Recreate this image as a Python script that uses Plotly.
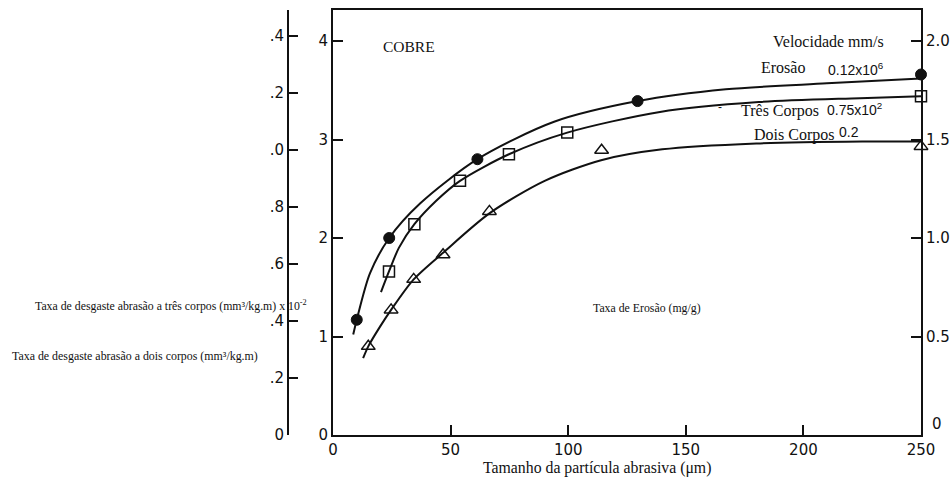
import plotly.graph_objects as go

# ---- data (primary axis units: Taxa de Erosão scale 0-4) ----
x_ticks = [0, 50, 100, 150, 200, 250]
y_left_ticks = [0, 1, 2, 3, 4]
y_right_vals = [0.5, 1.0, 1.5, 2.0]
y_right_text = ["0.5", "1.0", "1.5", "2.0"]
y_outer_vals = [0, 0.2, 0.4, 0.6, 0.8, 1.0, 1.2, 1.4]
y_outer_text = ["0", ".2", ".4", ".6", ".8", ".0", ".2", ".4"]

# markers
erosao_x = [10.1, 23.9, 61.4, 129.5, 250]
erosao_y = [1.17, 2.00, 2.80, 3.39, 3.66]
tres_x = [23.8, 34.6, 54.0, 74.8, 99.6, 250]
tres_y = [1.66, 2.14, 2.58, 2.85, 3.07, 3.44]
dois_x = [15.0, 24.7, 34.3, 46.8, 66.5, 114.2, 250]
dois_y = [0.90, 1.27, 1.58, 1.83, 2.27, 2.89, 2.93]

# fitted curves
erosao_cx = [8.6, 10.1, 15.7, 23.9, 37, 61.4, 94, 129.5, 167, 210, 250]
erosao_cy = [1.02, 1.17, 1.64, 2.00, 2.35, 2.80, 3.18, 3.39, 3.51, 3.57, 3.62]
tres_cx = [20.4, 23.8, 28, 34.6, 44, 54, 74.8, 99.6, 139, 181, 224, 250]
tres_cy = [1.45, 1.66, 1.90, 2.14, 2.38, 2.58, 2.85, 3.07, 3.28, 3.38, 3.42, 3.44]
dois_cx = [12.8, 15, 20, 24.7, 34.3, 46.8, 66.5, 90, 114, 140, 180, 225, 250]
dois_cy = [0.78, 0.90, 1.10, 1.27, 1.58, 1.85, 2.25, 2.58, 2.79, 2.90, 2.96, 2.98, 2.98]

W, H = 950, 479
ML, MR, MT, MB = 250, 29, 10, 44
PW = W - ML - MR
PH = H - MT - MB

def px(x):
    return (x - ML) / PW

def py(y):
    return (H - MB - y) / PH

LINE = "#111111"
fig = go.Figure()

def curve(xs, ys):
    fig.add_trace(go.Scatter(x=xs, y=ys, mode="lines", line=dict(color=LINE, width=2, shape="spline", smoothing=0.8),
                             hoverinfo="skip", showlegend=False, cliponaxis=False))

curve(erosao_cx, erosao_cy)
curve(tres_cx, tres_cy)
curve(dois_cx, dois_cy)

fig.add_trace(go.Scatter(x=erosao_x, y=erosao_y, mode="markers", name="Erosão",
                         marker=dict(symbol="circle", size=11, color=LINE, line=dict(color=LINE, width=1)),
                         showlegend=False, cliponaxis=False))
fig.add_trace(go.Scatter(x=tres_x, y=tres_y, mode="markers", name="Três Corpos",
                         marker=dict(symbol="square-open", size=11, color=LINE, line=dict(color=LINE, width=1.5)),
                         showlegend=False, cliponaxis=False))
fig.add_trace(go.Scatter(x=dois_x, y=dois_y, mode="markers", name="Dois Corpos",
                         marker=dict(symbol="triangle-up-open", size=12, color=LINE, line=dict(color=LINE, width=1.5)),
                         showlegend=False, cliponaxis=False))

tickfont = dict(family="DejaVu Sans", size=15, color="#111111")
common = dict(tickwidth=1.5, tickcolor=LINE, showline=True, linecolor=LINE, linewidth=2,
              showgrid=False, zeroline=False, tickfont=tickfont, automargin=False)
x0 = px(333)
fig.update_layout(
    width=W, height=H, autosize=False,
    margin=dict(l=ML, r=MR, t=MT, b=MB, autoexpand=False),
    paper_bgcolor="white", plot_bgcolor="white", showlegend=False,
    xaxis=dict(domain=[x0, 1], range=[0, 250], tickvals=x_ticks, ticks="inside", ticklen=10,
               mirror=True, **common),
    yaxis=dict(range=[0, 425 / 98.5], tickvals=y_left_ticks, ticks="inside", ticklen=10, **common),
    yaxis2=dict(overlaying="y", side="right", anchor="x", range=[0, 425 / 98.5 / 2],
                tickvals=y_right_vals, ticktext=y_right_text, ticks="inside", ticklen=10, **common),
    yaxis3=dict(overlaying="y", side="left", anchor="free", position=px(288), range=[0, 425 / 285],
                tickvals=y_outer_vals, ticktext=y_outer_text, ticks="inside", ticklen=9, **common),
)
# dummy traces to activate the extra axes
fig.add_trace(go.Scatter(x=[None], y=[None], yaxis="y2", showlegend=False, hoverinfo="skip"))
fig.add_trace(go.Scatter(x=[None], y=[None], yaxis="y3", showlegend=False, hoverinfo="skip"))

serif = "Liberation Serif"
def ann(text, x, y, size, family=serif, xanchor="center"):
    fig.add_annotation(text=text, x=px(x), y=py(y), xref="paper", yref="paper", showarrow=False,
                       xanchor=xanchor, yanchor="middle", font=dict(family=family, size=size, color="#111111"))

ann("COBRE", 381, 46, 15.5, xanchor="left")
ann("Velocidade mm/s", 771, 41, 16, xanchor="left")
ann("Erosão", 759, 67, 16, xanchor="left")
ann("0.12x10<sup>6</sup>", 826, 69, 14, family="Liberation Sans", xanchor="left")
ann("-", 716, 107, 12, family="Liberation Sans", xanchor="left")
ann("Três Corpos", 739, 111, 16, xanchor="left")
ann("0.75x10<sup>2</sup>", 825, 109, 14, family="Liberation Sans", xanchor="left")
ann("Dois Corpos", 752, 135, 16, xanchor="left")
ann("0.2", 837, 132, 14, family="Liberation Sans", xanchor="left")
ann("Taxa de Erosão (mg/g)", 591, 308, 11.8, xanchor="left")
ann("Taxa de desgaste abrasão a três corpos (mm³/kg.m) x 10<sup>-2</sup>", 33, 305, 11.8, xanchor="left")
ann("Taxa de desgaste abrasão a dois corpos (mm³/kg.m)", 10, 356, 11.9, xanchor="left")
ann("Tamanho da partícula abrasiva (μm)", 597, 468, 15.8)
# right-axis zero label (raised in the original, next to the 250 tick label)
ann("0", 930, 424, 15, family="DejaVu Sans", xanchor="left")

fig.write_html("out.html", post_script="document.body.style.margin='0';",
               config={"displayModeBar": False})
